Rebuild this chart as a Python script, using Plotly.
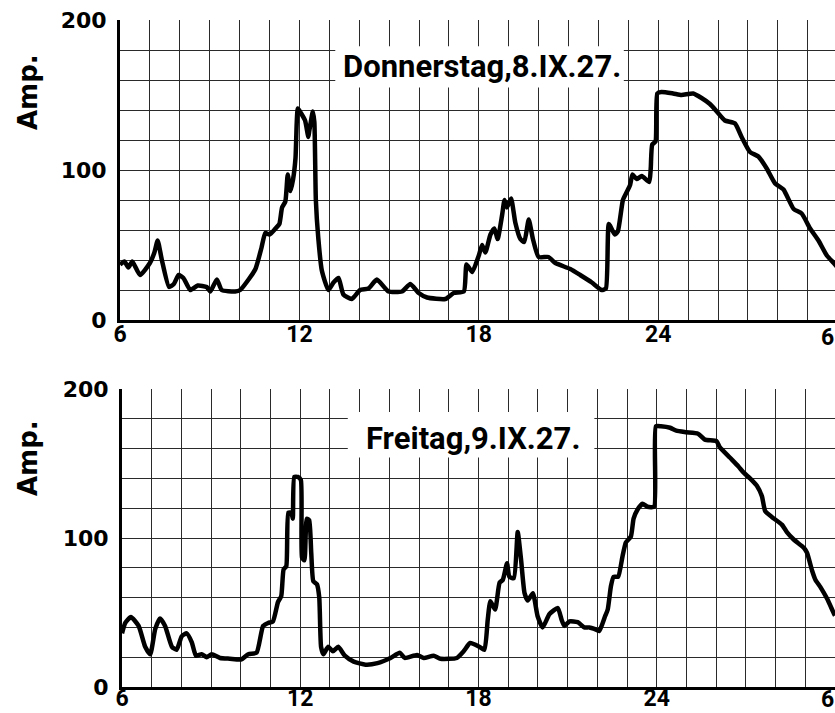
import plotly.graph_objects as go

# ---- data ----
thu_hours = [6.0, 6.15, 6.28, 6.41, 6.67, 7.0, 7.15, 7.26, 7.4, 7.64, 7.8, 7.96, 8.12, 8.35, 8.6, 8.9,
             9.02, 9.24, 9.4, 9.85, 10.02, 10.3, 10.53, 10.73, 10.86, 11.0, 11.2, 11.33, 11.42, 11.53,
             11.61, 11.7, 11.79, 11.87, 11.95, 12.05, 12.19, 12.3, 12.33, 12.45, 12.5, 12.55, 12.63,
             12.75, 12.97, 13.14, 13.31, 13.47, 13.75, 14.03, 14.31, 14.59, 14.98, 15.43, 15.71, 15.99,
             16.27, 16.88, 17.16, 17.5, 17.59, 17.78, 18.0, 18.11, 18.22, 18.39, 18.52, 18.63, 18.78,
             18.86, 18.94, 19.08, 19.22, 19.39, 19.52, 19.67, 19.81, 20.0, 20.33, 20.56, 21.06, 21.39,
             21.78, 22.11, 22.25, 22.35, 22.55, 22.65, 22.82, 22.94, 23.06, 23.14, 23.28, 23.45, 23.7,
             23.75, 23.8, 23.91, 23.97, 24.11, 24.5, 24.78, 25.17, 25.45, 25.73, 25.96, 26.23, 26.57,
             26.79, 27.07, 27.35, 27.63, 27.91, 28.19, 28.53, 28.8, 29.08, 29.36, 29.64, 29.87, 30.0]
thu_amp = [37, 39, 35, 39, 30, 38, 45, 53, 40, 22, 24, 30, 28, 20, 23, 22,
           19, 27, 20, 19, 20, 27, 34, 48, 58, 57, 61, 64, 75, 79,
           97, 86, 94, 108, 141, 138, 133, 122, 126, 139, 132, 80, 55,
           33, 20, 25, 28, 17, 14, 20, 21, 27, 19, 19, 24, 18,
           15, 14, 18, 19, 37, 32, 43, 50, 45, 57, 61, 54, 70,
           80, 75, 81, 65, 54, 52, 67, 54, 42, 42, 38, 34, 30,
           25, 20, 21, 64, 57, 59, 80, 85, 90, 97, 94, 96, 92,
           101, 117, 119, 151, 152, 151, 150, 151, 148, 144, 139, 133, 131,
           122, 112, 109, 101, 91, 87, 74, 71, 61, 53, 43, 38, 35]

fri_hours = [6.0, 6.11, 6.3, 6.56, 6.78, 6.95, 7.12, 7.28, 7.45, 7.68, 7.84, 8.01, 8.18, 8.35, 8.49,
             8.68, 8.85, 9.02, 9.3, 9.63, 10.02, 10.25, 10.53, 10.75, 10.92, 11.08, 11.25, 11.36, 11.44,
             11.53, 11.6, 11.7, 11.75, 11.8, 11.92, 12.02, 12.06, 12.14, 12.22, 12.3, 12.37, 12.44,
             12.56, 12.64, 12.7, 12.78, 12.94, 13.1, 13.28, 13.5, 13.8, 14.2, 14.6, 15.04, 15.35, 15.52,
             15.93, 16.16, 16.49, 16.72, 17.27, 17.5, 17.72, 18.03, 18.2, 18.31, 18.4, 18.56, 18.71,
             18.82, 18.96, 19.04, 19.19, 19.32, 19.43, 19.55, 19.66, 19.83, 19.99, 20.16, 20.39, 20.67,
             20.8, 20.89, 21.06, 21.34, 21.56, 21.73, 21.9, 22.06, 22.26, 22.35, 22.46, 22.55, 22.7,
             22.85, 22.96, 23.13, 23.22, 23.35, 23.52, 23.69, 23.91, 23.97, 24.14, 24.45, 24.66, 24.99,
             25.39, 25.62, 26.01, 26.12, 26.46, 26.75, 26.92, 27.14, 27.37, 27.54, 27.65, 27.88, 28.21,
             28.38, 28.61, 28.95, 29.06, 29.23, 29.34, 29.51, 29.74, 29.97, 30.0]
fri_amp = [36, 43, 47, 41, 27, 22, 39, 46, 41, 27, 25, 34, 36, 30, 21,
           22, 20, 22, 19.5, 19, 18.5, 22, 23, 41, 43, 44, 57, 61, 79,
           81, 117, 117, 113, 141, 141, 139, 87, 85, 113, 112, 90, 71,
           69, 60, 27, 22, 27, 24, 27, 21, 17, 15, 16, 19.5, 23, 19.5,
           21.5, 19.5, 21, 19, 19.5, 24, 29.5, 27, 25, 45, 57.6, 52, 70,
           72, 83, 74, 73, 104, 86, 63, 58, 63, 47.5, 40, 49, 53,
           45, 41, 44, 43.5, 40, 40, 39, 37.5, 47.5, 52, 68, 74, 74,
           88, 97, 101, 113, 119, 123, 121, 121, 175, 175, 174, 172, 171,
           170, 166, 165, 161, 154, 148, 144, 140, 135, 128, 118, 114, 109,
           104, 99, 93.5, 90, 78, 72, 67, 59, 49, 48]

x_tickvals = list(range(6, 31))
x_ticktext = [str(h if h <= 24 else h - 24) if (h - 6) % 6 == 0 else "" for h in x_tickvals]
y_tickvals = list(range(0, 201, 20))
y_ticktext = [str(v) if v % 100 == 0 else "" for v in y_tickvals]

titles = ["Donnerstag,8.IX.27.", "Freitag,9.IX.27."]
y_label = "Amp."

# ---- styling ----
W, H = 835, 713
NARROW = "Roboto, Liberation Sans, sans-serif"
BOLD = "DejaVu Sans, Liberation Sans, sans-serif"
GRID = "#2a2a2a"

def px_x(p):
    return p / W

def px_y(p):
    return (H - p) / H

fig = go.Figure()
fig.add_trace(go.Scatter(x=thu_hours, y=thu_amp, mode="lines", xaxis="x", yaxis="y",
                         line=dict(color="black", width=4.5, shape="spline", smoothing=0.5),
                         showlegend=False, hoverinfo="skip"))
fig.add_trace(go.Scatter(x=fri_hours, y=fri_amp, mode="lines", xaxis="x2", yaxis="y2",
                         line=dict(color="black", width=4.5, shape="spline", smoothing=0.5),
                         showlegend=False, hoverinfo="skip"))

xcommon = dict(tickmode="array", tickvals=x_tickvals, ticktext=x_ticktext,
               showgrid=True, gridcolor=GRID, gridwidth=1.2, zeroline=False,
               showline=True, linecolor="black", linewidth=3, ticks="",
               ticklabelstandoff=-9, automargin=False,
               tickfont=dict(family=NARROW, size=23, color="black", weight="bold"),
               fixedrange=True)
ycommon = dict(tickmode="array", tickvals=y_tickvals, ticktext=y_ticktext, range=[0, 200],
               showgrid=True, gridcolor=GRID, gridwidth=1.2, zeroline=False,
               showline=True, linecolor="black", linewidth=3, ticks="",
               ticklabelstandoff=6, automargin=False,
               tickfont=dict(family=BOLD, size=22, color="black", weight="bold"),
               fixedrange=True)

fig.update_layout(
    width=W, height=H,
    margin=dict(l=0, r=0, t=0, b=0, autoexpand=False),
    paper_bgcolor="white", plot_bgcolor="white",
    xaxis=dict(xcommon, domain=[px_x(120), 1.0], range=[6, 6 + (W - 120) / 29.9], anchor="y"),
    yaxis=dict(ycommon, domain=[px_y(320), px_y(20)], anchor="x"),
    xaxis2=dict(xcommon, domain=[px_x(122), 1.0], range=[6, 30], anchor="y2",
                ticklabelstandoff=-12),
    yaxis2=dict(ycommon, domain=[px_y(687), px_y(389)], anchor="x2"),
)

# white boxes behind the titles
fig.add_shape(type="rect", xref="x", yref="y", x0=13.2, x1=22.85, y0=155, y1=182.5,
              fillcolor="white", line=dict(width=0), layer="above")
fig.add_shape(type="rect", xref="x2", yref="y2", x0=13.6, x1=21.9, y0=154, y1=184.5,
              fillcolor="white", line=dict(width=0), layer="above")

fig.add_annotation(text=titles[0], xref="paper", yref="paper", x=px_x(482), y=px_y(66),
                   showarrow=False, xanchor="center", yanchor="middle",
                   font=dict(family=NARROW, size=31, color="black", weight="bold"))
fig.add_annotation(text=titles[1], xref="paper", yref="paper", x=px_x(473), y=px_y(439),
                   showarrow=False, xanchor="center", yanchor="middle",
                   font=dict(family=NARROW, size=31, color="black", weight="bold"))

# y-axis labels
for yc in (92, 458):
    fig.add_annotation(text=y_label, xref="paper", yref="paper", x=px_x(28), y=px_y(yc),
                       showarrow=False, textangle=-90, xanchor="center", yanchor="middle",
                       font=dict(family=BOLD, size=26, color="black", weight="bold"))

# the "6" at the right end of both time axes (kept just inside the page edge)
for yc in (337, 699):
    fig.add_annotation(text=x_ticktext[-1], xref="paper", yref="paper", x=1.0, y=px_y(yc),
                       showarrow=False, xanchor="right", yanchor="middle", borderpad=0,
                       font=dict(family=NARROW, size=23, color="black", weight="bold"))

fig.write_html("out.html", config={"displayModeBar": False},
               post_script="document.body.style.margin='0';document.body.style.overflow='hidden';")
